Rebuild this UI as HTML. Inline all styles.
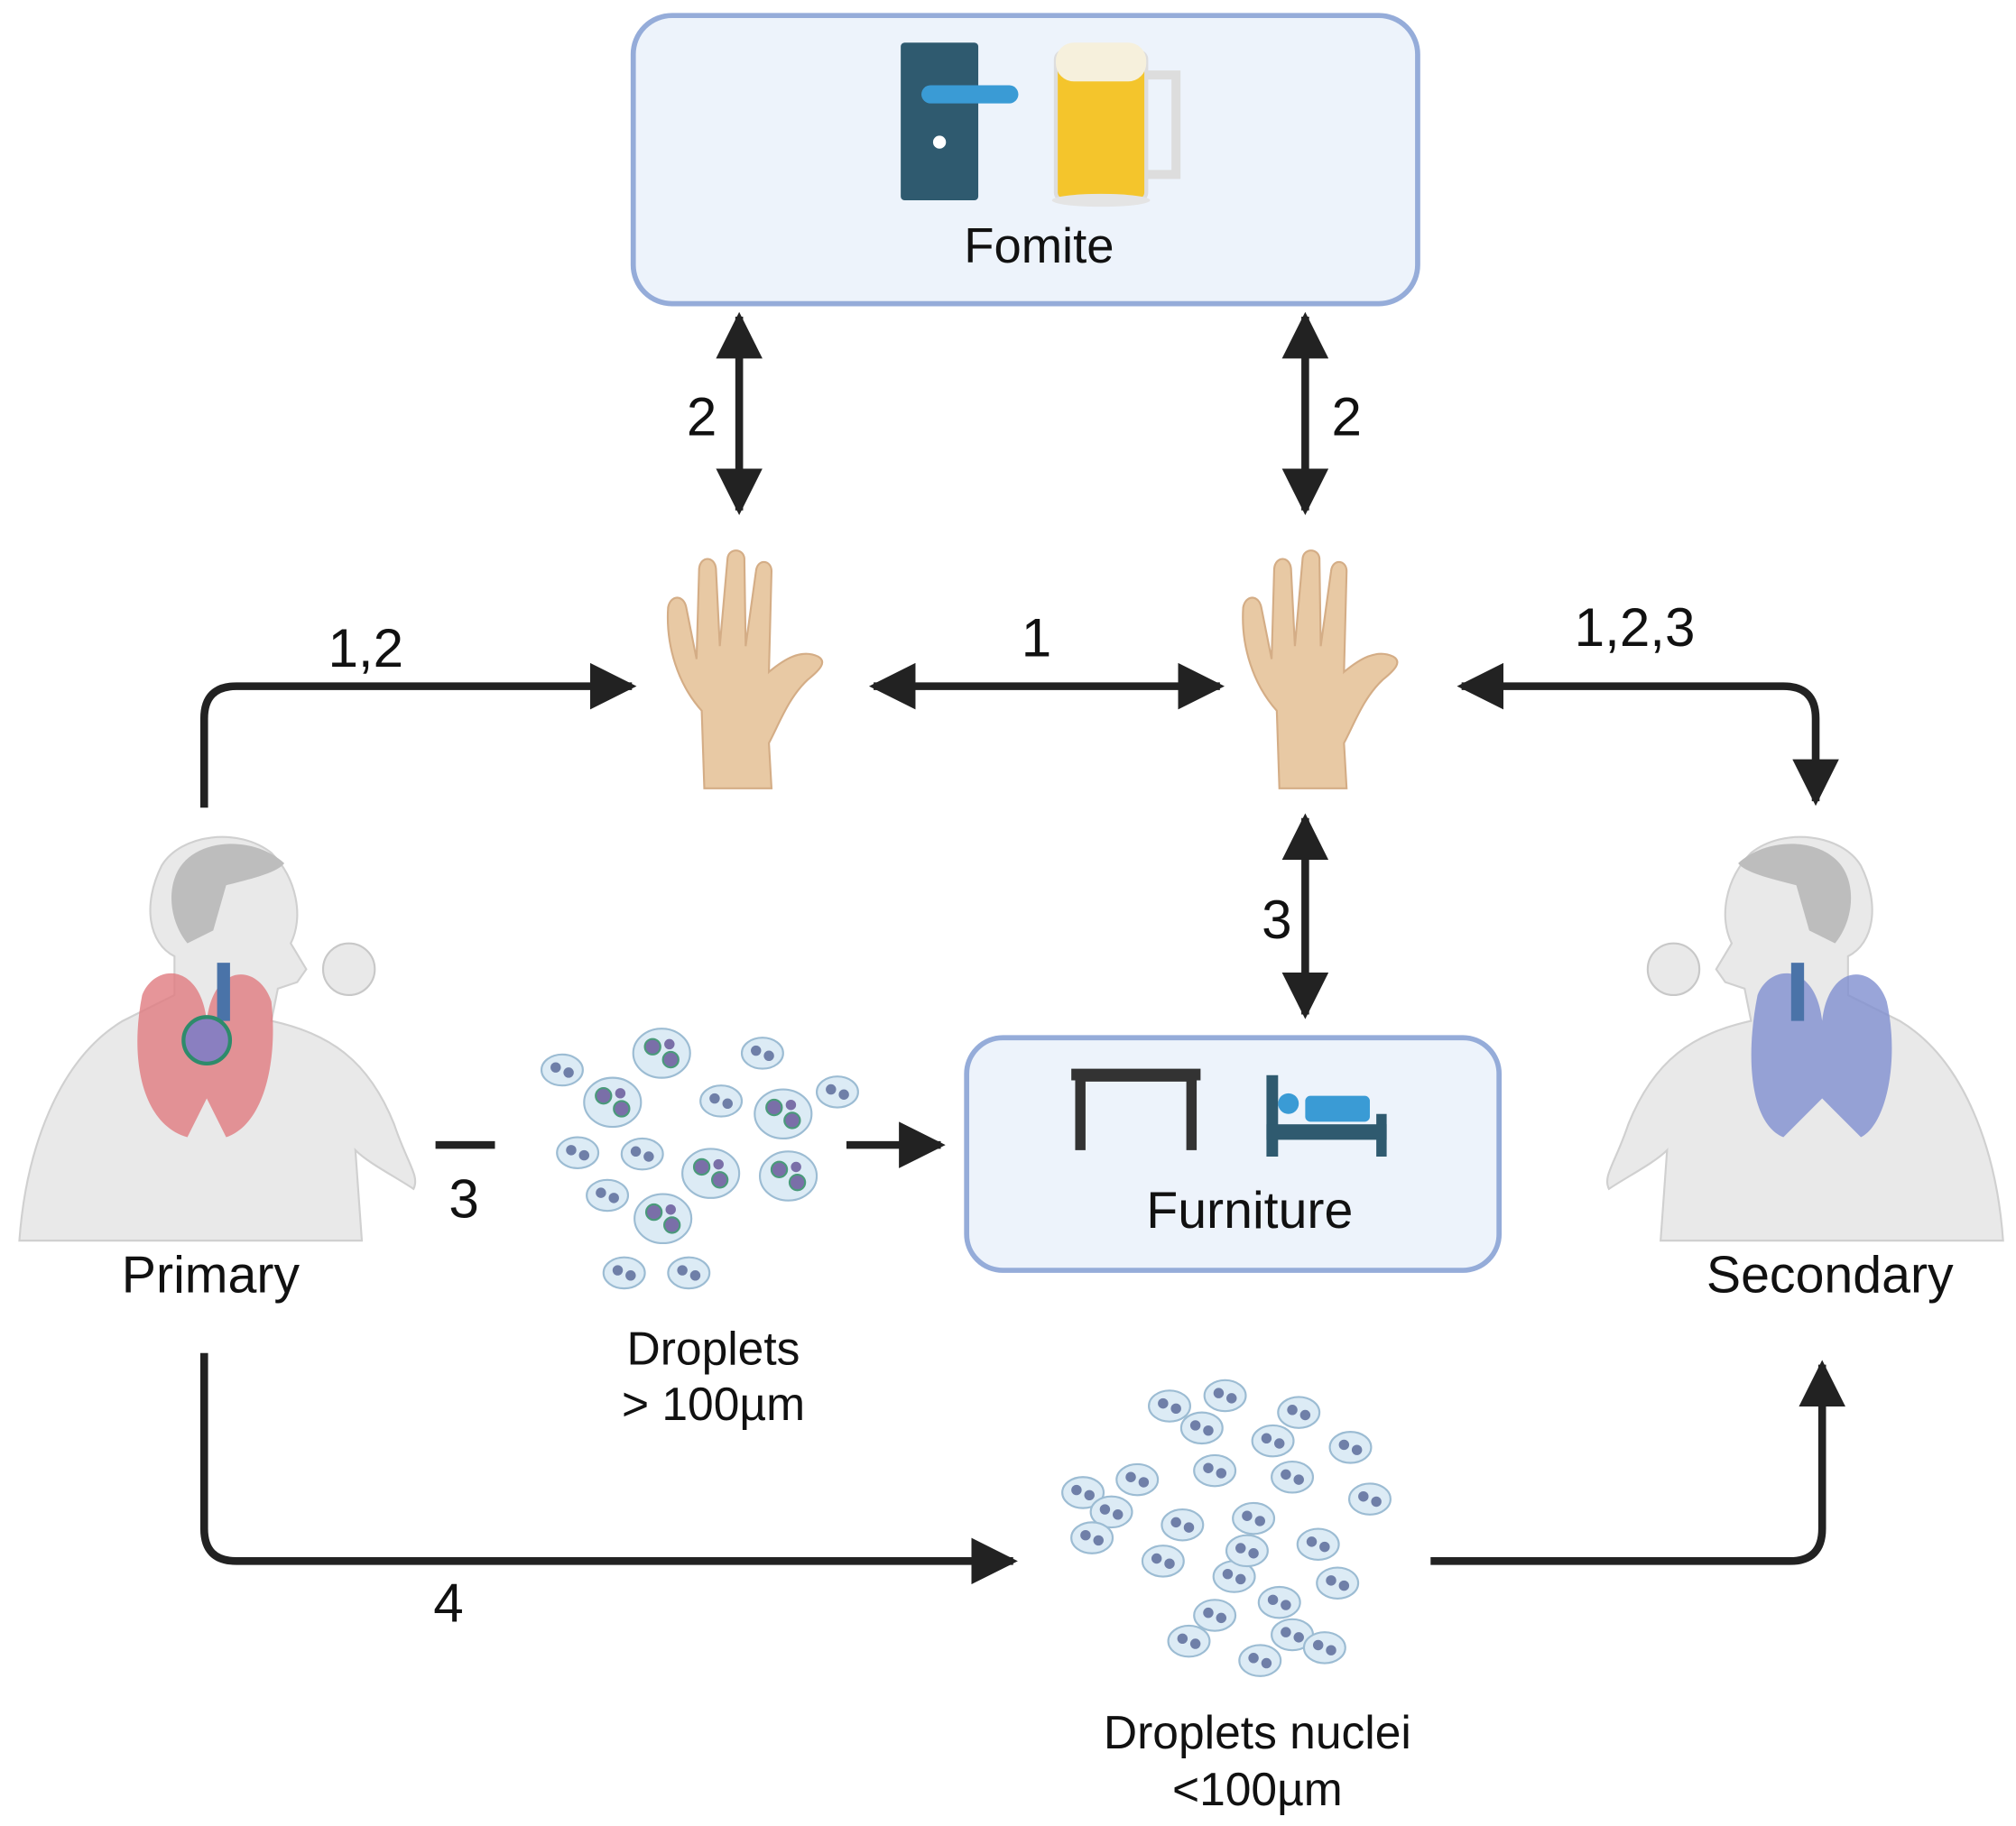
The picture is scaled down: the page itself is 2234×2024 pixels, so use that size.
<!DOCTYPE html>
<html><head><meta charset="utf-8"><style>
html,body{margin:0;padding:0;background:#fff}
svg{display:block}
text{font-family:"Liberation Sans",sans-serif;fill:#111}
</style></head><body>
<svg width="2234" height="2024" viewBox="0 0 1560 1413" preserveAspectRatio="none" xmlns="http://www.w3.org/2000/svg">
<defs>
<marker id="ah" viewBox="0 0 10 10" refX="9" refY="5" markerWidth="6" markerHeight="6" orient="auto-start-reverse" markerUnits="strokeWidth">
<path d="M0,0 L10,5 L0,10 z" fill="#222"/></marker>
<g id="drop">
<ellipse cx="0" cy="0" rx="16" ry="12" fill="#dcebf5" stroke="#9cbcd3" stroke-width="1.5"/>
<circle cx="-5" cy="-2" r="4" fill="#6f7fa8"/><circle cx="5" cy="2" r="4" fill="#6f7fa8"/>
</g>
<g id="drop2">
<ellipse cx="0" cy="0" rx="22" ry="19" fill="#dcebf5" stroke="#9cbcd3" stroke-width="1.5"/>
<circle cx="-7" cy="-5" r="6" fill="#7a6fa8" stroke="#4a9a7a" stroke-width="1.5"/><circle cx="7" cy="5" r="6" fill="#7a6fa8" stroke="#4a9a7a" stroke-width="1.5"/><circle cx="6" cy="-7" r="4" fill="#7a6fa8"/>
</g>
<g id="hand">
<path d="M30,180 L28,120 C10,100 0,70 2,40 C4,30 14,30 16,40 L24,80 L26,10 C27,0 38,0 39,10 L42,70 L48,2 C49,-6 60,-6 61,2 L62,70 L70,12 C71,2 82,3 82,12 L80,90 C92,80 105,72 118,78 C125,82 120,88 110,96 C95,110 88,130 80,145 L82,180 Z" fill="#e8c9a4" stroke="#d4ad86" stroke-width="1.5"/>
</g>
<g id="person">
<path d="M0,320 C5,250 30,180 80,150 L120,130 L120,100 C100,90 95,60 110,30 C125,5 170,0 195,20 C215,40 220,70 210,90 L222,110 L215,120 L200,125 L195,150 C240,160 270,180 290,230 C300,260 310,270 305,280 C290,270 270,260 260,250 L265,320 Z" fill="#e9e9e9" stroke="#d0d0d0" stroke-width="1.5"/>
<path d="M120,40 C130,8 180,5 205,28 C200,35 180,40 160,45 L150,80 L130,90 C118,75 115,55 120,40 Z" fill="#bdbdbd"/>
<circle cx="255" cy="110" r="20" fill="#e9e9e9" stroke="#c8c8c8" stroke-width="1.5"/>
</g>
</defs>

<rect x="490" y="12" width="607" height="223" rx="30" fill="#edf3fb" stroke="#95acd9" stroke-width="4"/>
<rect x="697" y="33" width="60" height="122" rx="3" fill="#2f5a6f"/>
<rect x="713" y="66" width="75" height="14" rx="7" fill="#3a9bd5"/>
<circle cx="727" cy="110" r="5" fill="#fff"/>
<rect x="817" y="40" width="70" height="115" rx="6" fill="#f4c52c" stroke="#ddd" stroke-width="3"/>
<rect x="817" y="33" width="70" height="30" rx="14" fill="#f6f0dc"/>
<path d="M887,58 L910,58 L910,135 L887,135" fill="none" stroke="#ddd" stroke-width="7"/>
<ellipse cx="852" cy="155" rx="38" ry="5" fill="#e4e4e4"/>
<text x="804" y="203" font-size="38" text-anchor="middle">Fomite</text>

<line x1="572" y1="245" x2="572" y2="395" stroke="#222" stroke-width="6" marker-start="url(#ah)" marker-end="url(#ah)"/>
<text x="543" y="337" font-size="42" text-anchor="middle">2</text>
<line x1="1010" y1="245" x2="1010" y2="395" stroke="#222" stroke-width="6" marker-start="url(#ah)" marker-end="url(#ah)"/>
<text x="1042" y="337" font-size="42" text-anchor="middle">2</text>

<use href="#hand" x="515" y="430"/>
<use href="#hand" x="960" y="430"/>

<line x1="676" y1="531" x2="944" y2="531" stroke="#222" stroke-width="6" marker-start="url(#ah)" marker-end="url(#ah)"/>
<text x="802" y="508" font-size="42" text-anchor="middle">1</text>

<path d="M158,625 L158,556 Q158,531 183,531 L489,531" fill="none" stroke="#222" stroke-width="6" marker-end="url(#ah)"/>
<text x="283" y="516" font-size="42" text-anchor="middle">1,2</text>

<path d="M1131,531 L1380,531 Q1405,531 1405,556 L1405,620" fill="none" stroke="#222" stroke-width="6" marker-start="url(#ah)" marker-end="url(#ah)"/>
<text x="1265" y="500" font-size="42" text-anchor="middle">1,2,3</text>

<line x1="1010" y1="633" x2="1010" y2="785" stroke="#222" stroke-width="6" marker-start="url(#ah)" marker-end="url(#ah)"/>
<text x="988" y="726" font-size="42" text-anchor="middle">3</text>

<rect x="748" y="803" width="412" height="180" rx="28" fill="#edf3fb" stroke="#95acd9" stroke-width="4"/>
<path d="M836,890 L836,833 L922,833 L922,890" fill="none" stroke="#333" stroke-width="8"/>
<rect x="829" y="827" width="100" height="9" fill="#333"/>
<rect x="980" y="832" width="9" height="63" fill="#2f5a6f"/>
<rect x="1065" y="862" width="8" height="33" fill="#2f5a6f"/>
<rect x="980" y="870" width="93" height="12" fill="#2f5a6f"/>
<circle cx="997" cy="854" r="8" fill="#3a9bd5"/>
<rect x="1010" y="848" width="50" height="20" rx="4" fill="#3a9bd5"/>
<text x="967" y="950" font-size="40" text-anchor="middle">Furniture</text>

<use href="#person" x="15" y="640"/>
<path d="M110,770 C120,745 155,745 160,790 C165,745 200,745 210,775 C215,820 205,870 175,880 L160,850 L145,880 C110,870 100,820 110,770 Z" fill="#e07a80" opacity="0.8"/>
<rect x="168" y="745" width="10" height="45" fill="#4a73a8"/>
<circle cx="160" cy="805" r="18" fill="#8a7fc0" stroke="#2e8b6b" stroke-width="3"/>
<text x="163" y="1000" font-size="40" text-anchor="middle">Primary</text>

<g transform="translate(1550,640) scale(-1,1)"><use href="#person" x="0" y="0"/></g>
<path d="M1360,770 C1370,745 1405,745 1410,790 C1415,745 1450,745 1460,775 C1470,820 1460,870 1440,880 L1410,850 L1380,880 C1355,870 1350,820 1360,770 Z" fill="#7f8fd0" opacity="0.8"/>
<rect x="1386" y="745" width="10" height="45" fill="#4a73a8"/>
<text x="1416" y="1000" font-size="40" text-anchor="middle">Secondary</text>

<line x1="337" y1="886" x2="383" y2="886" stroke="#222" stroke-width="6"/>
<text x="359" y="942" font-size="42" text-anchor="middle">3</text>

<use href="#drop" x="435" y="828"/>
<use href="#drop2" x="512" y="815"/>
<use href="#drop2" x="474" y="853"/>
<use href="#drop" x="590" y="815"/>
<use href="#drop" x="558" y="852"/>
<use href="#drop2" x="606" y="862"/>
<use href="#drop" x="648" y="845"/>
<use href="#drop" x="447" y="892"/>
<use href="#drop" x="497" y="893"/>
<use href="#drop2" x="550" y="908"/>
<use href="#drop2" x="610" y="910"/>
<use href="#drop" x="470" y="925"/>
<use href="#drop2" x="513" y="943"/>
<use href="#drop" x="483" y="985"/>
<use href="#drop" x="533" y="985"/>
<line x1="655" y1="886" x2="728" y2="886" stroke="#222" stroke-width="6" marker-end="url(#ah)"/>
<text x="552" y="1056" font-size="36" text-anchor="middle">Droplets</text>
<text x="552" y="1099" font-size="36" text-anchor="middle">&gt; 100µm</text>

<path d="M158,1047 L158,1183 Q158,1208 183,1208 L784,1208" fill="none" stroke="#222" stroke-width="6" marker-end="url(#ah)"/>
<text x="347" y="1255" font-size="42" text-anchor="middle">4</text>

<g>
<use href="#drop" x="905" y="1088"/><use href="#drop" x="948" y="1080"/><use href="#drop" x="1005" y="1093"/>
<use href="#drop" x="930" y="1105"/><use href="#drop" x="985" y="1115"/><use href="#drop" x="1045" y="1120"/>
<use href="#drop" x="838" y="1155"/><use href="#drop" x="880" y="1145"/><use href="#drop" x="940" y="1138"/>
<use href="#drop" x="1000" y="1143"/><use href="#drop" x="1060" y="1160"/><use href="#drop" x="860" y="1170"/>
<use href="#drop" x="915" y="1180"/><use href="#drop" x="970" y="1175"/><use href="#drop" x="1020" y="1195"/>
<use href="#drop" x="845" y="1190"/><use href="#drop" x="900" y="1208"/><use href="#drop" x="955" y="1220"/>
<use href="#drop" x="1035" y="1225"/><use href="#drop" x="990" y="1240"/><use href="#drop" x="940" y="1250"/>
<use href="#drop" x="920" y="1270"/><use href="#drop" x="1000" y="1265"/><use href="#drop" x="975" y="1285"/>
<use href="#drop" x="1025" y="1275"/><use href="#drop" x="965" y="1200"/>
</g>
<path d="M1107,1208 L1385,1208 Q1410,1208 1410,1183 L1410,1056" fill="none" stroke="#222" stroke-width="6" marker-end="url(#ah)"/>
<text x="973" y="1353" font-size="36" text-anchor="middle">Droplets nuclei</text>
<text x="973" y="1397" font-size="36" text-anchor="middle">&lt;100µm</text>
</svg>
</body></html>
